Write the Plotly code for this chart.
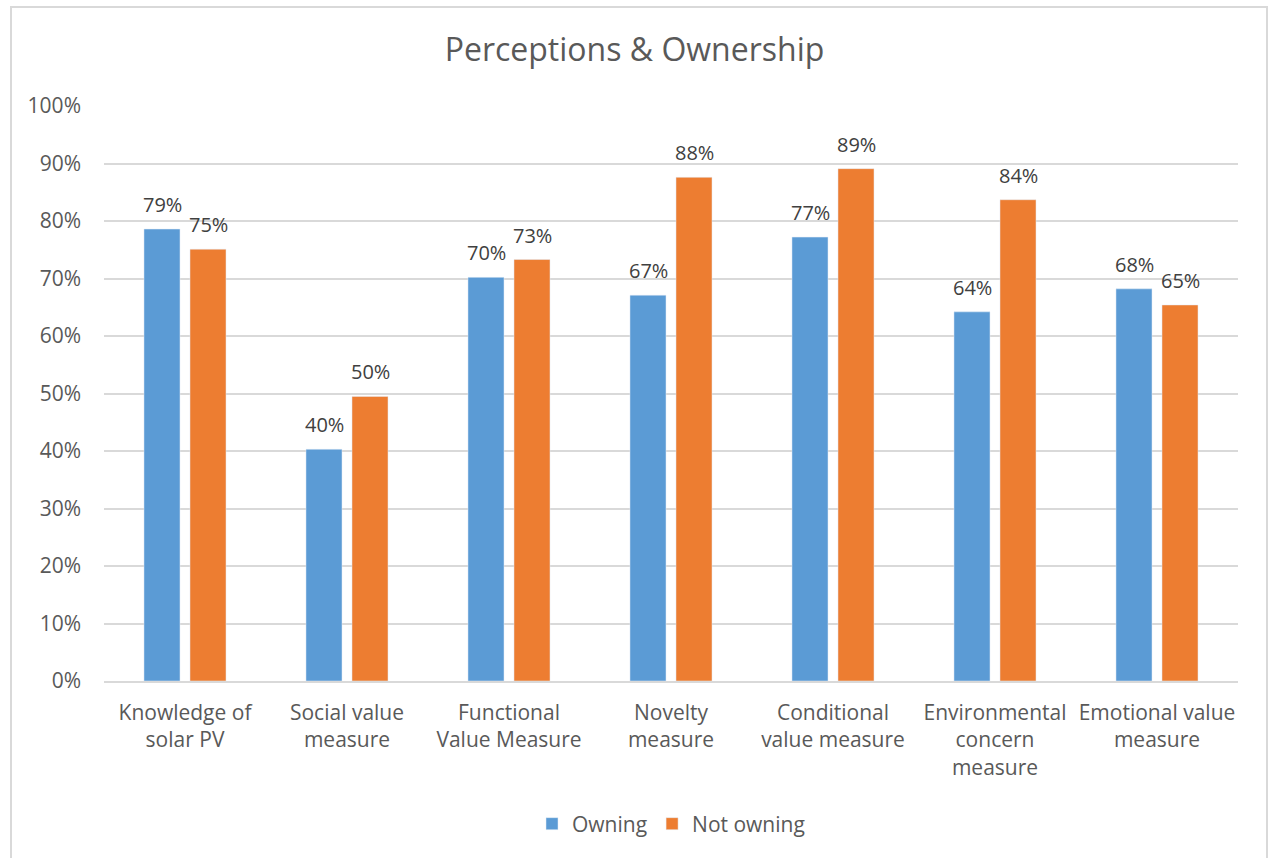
import plotly.graph_objects as go

categories = ["Knowledge of<br>solar PV", "Social value<br>measure", "Functional<br>Value Measure",
              "Novelty<br>measure", "Conditional<br>value measure", "Environmental<br>concern<br>measure",
              "Emotional value<br>measure"]
owning = [0.786, 0.403, 0.702, 0.671, 0.772, 0.642, 0.682]
not_owning = [0.751, 0.495, 0.733, 0.876, 0.891, 0.837, 0.654]
y_ticks = [0, 0.1, 0.2, 0.3, 0.4, 0.5, 0.6, 0.7, 0.8, 0.9, 1.0]

FONT = "Open Sans"
TXT = "#595959"
W, H = 1269, 858
L, R, T, B = 104, 31, 106, 177
pw = W - L - R
ph = H - T - B
FS = 21

fig = go.Figure()
fig.add_trace(go.Bar(name="Owning", x=categories, y=owning, marker_color="#5B9BD5"))
fig.add_trace(go.Bar(name="Not owning", x=categories, y=not_owning, marker_color="#ED7D31"))

for series, shift in ((owning, -23), (not_owning, 23)):
    for c, v in zip(categories, series):
        fig.add_annotation(x=c, y=v, text=f"{round(v * 100)}%", showarrow=False,
                           xref="x", yref="y", xshift=shift, yanchor="bottom", yshift=9,
                           font=dict(family=FONT, size=20, color="#404040"))

fig.add_shape(type="rect", xref="paper", yref="paper",
              x0=(11 - L) / pw, x1=(1267 - L) / pw,
              y0=(681 - 870) / ph, y1=(681 - 7) / ph,
              line=dict(color="#D9D9D9", width=2), layer="below")

fig.update_layout(
    width=W, height=H,
    margin=dict(l=L, r=R, t=T, b=B, pad=0),
    paper_bgcolor="white", plot_bgcolor="white",
    barmode="group", bargap=0.432, bargroupgap=0.217,
    title=dict(text="Perceptions &amp; Ownership", x=0.5, xanchor="center",
               y=1 - 50 / H, yanchor="middle", yref="container",
               font=dict(family=FONT, size=32, color=TXT)),
    font=dict(family=FONT, color=TXT, size=FS),
    legend=dict(orientation="h", x=0.5, xanchor="center", y=(681 - 824) / ph, yanchor="middle",
                font=dict(size=FS, color=TXT), traceorder="normal"),
    yaxis=dict(range=[0, 1], tickvals=y_ticks, tickformat=".0%", showgrid=True,
               gridcolor="#D9D9D9", gridwidth=1.5, zeroline=False, showline=False,
               ticklabelstandoff=22, tickfont=dict(size=FS, color=TXT)),
    xaxis=dict(showline=True, linecolor="#D9D9D9", linewidth=1.5, ticks="",
               ticklabelstandoff=12, tickfont=dict(size=FS, color=TXT)),
)
fig.write_html("out.html")
